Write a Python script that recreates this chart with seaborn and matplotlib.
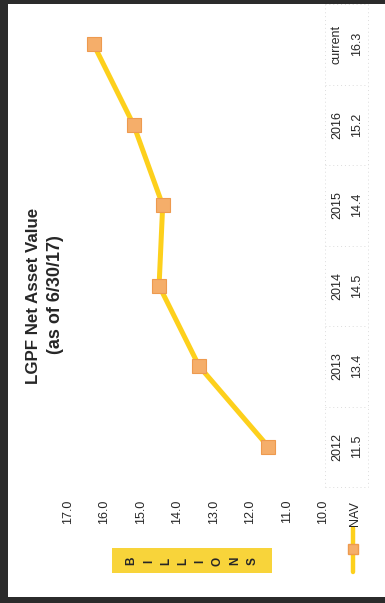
#%%#
### Step 1  ######################################################################
### Libraries and the chart values

import numpy as np
import pandas as pd
import seaborn as sns
import matplotlib.pyplot as plt
from matplotlib.lines import Line2D
from matplotlib.patches import Rectangle
from matplotlib.transforms import blended_transform_factory

# NAV by year (billions)
years = ['2012', '2013', '2014', '2015', '2016', 'current']
nav = [11.5, 13.4, 14.5, 14.4, 15.2, 16.3]
value_ticks = [10.0, 11.0, 12.0, 13.0, 14.0, 15.0, 16.0, 17.0]
title_lines = ['LGPF Net Asset Value', '(as of 6/30/17)']
series_name = 'NAV'
unit_label = 'BILLIONS'

df = pd.DataFrame({'year': years, 'nav': nav})
###-------------------------------------------------------------------------------


#%%#
### Step 2  ######################################################################
### Plot (the page was scanned sideways, so the value axis runs horizontally)

sns.set_theme(style='white')
plt.rcParams['font.family'] = ['Liberation Sans', 'DejaVu Sans']

W, H = 385, 603
fig = plt.figure(figsize=(W / 100, H / 100), dpi=100)
fig.patch.set_facecolor('white')

def fx(px):
    return px / W

def fy(py):
    return 1 - py / H

ax = fig.add_axes([fx(68), fy(487), fx(323) - fx(68), fy(4) - fy(487)])
ax.set_facecolor('none')

line_col = '#FDD01C'
mark_col = '#F5AE6A'
mark_edge = '#EE9A4E'

sns.lineplot(data=df, x='nav', y='year', orient='y', sort=False, ax=ax,
             color=line_col, linewidth=3.6, marker='s', markersize=9.5,
             markerfacecolor=mark_col, markeredgecolor=mark_edge, markeredgewidth=0.8)

ax.set_xlim(17.0, 10.0)
ax.set_ylim(-0.5, len(years) - 0.5)
ax.set_xticks(value_ticks)
ax.set_xticklabels([f'{v:.1f}' for v in value_ticks], rotation=90, fontsize=9)
ax.tick_params(axis='x', length=0, pad=9)
ax.set_yticks([])
ax.set_xlabel('')
ax.set_ylabel('')
for s in ax.spines.values():
    s.set_visible(False)

# data table under the chart (years + values)
tr = blended_transform_factory(fig.transFigure, ax.transData)
for i, (yr, v) in enumerate(zip(years, nav)):
    ax.text(fx(337), i, yr, transform=tr, rotation=90, ha='center', va='center',
            fontsize=9, clip_on=False)
    ax.text(fx(357), i, f'{v:.1f}', transform=tr, rotation=90, ha='center', va='center',
            fontsize=9, clip_on=False)

# faint dotted table grid
grid_kw = dict(color='#dcdcdc', lw=0.7, ls=(0, (1, 3)), transform=fig.transFigure)
for gx in [325, 368]:
    fig.add_artist(Line2D([fx(gx), fx(gx)], [fy(4), fy(487)], **grid_kw))
for i in range(len(years) + 1):
    gy = 487 - i * (483 / len(years))
    fig.add_artist(Line2D([fx(325), fx(368)], [fy(gy), fy(gy)], **grid_kw))

# series name + legend key
fig.text(fx(355), fy(514), series_name, rotation=90, ha='center', va='center', fontsize=9)
fig.add_artist(Line2D([fx(353)] * 3, [fy(528), fy(549), fy(572)], color=line_col, lw=3.2,
                      marker='s', markevery=[1], markersize=7, markerfacecolor=mark_col,
                      markeredgecolor=mark_edge, transform=fig.transFigure))

# BILLIONS box
fig.add_artist(Rectangle((fx(112), fy(573)), fx(272) - fx(112), fy(548) - fy(573),
                         facecolor='#F8D43A', edgecolor='none', transform=fig.transFigure))
fig.text(fx(192), fy(561), '\n'.join(unit_label), rotation=90, ha='center', va='center',
         fontsize=8.5, fontweight='bold', linespacing=1.58)

# title
fig.text(fx(34), fy(296), title_lines[0], rotation=90, ha='center', va='center',
         fontsize=12.2, fontweight='bold')
fig.text(fx(56), fy(295), title_lines[1], rotation=90, ha='center', va='center',
         fontsize=13, fontweight='bold')

# dark scan frame
for x0, y0, x1, y1 in [(0, 0, 8, 603), (0, 0, 385, 4), (0, 597, 385, 603)]:
    fig.add_artist(Rectangle((fx(x0), fy(y1)), fx(x1) - fx(x0), fy(y0) - fy(y1),
                             facecolor='#2b2b2b', edgecolor='none', transform=fig.transFigure))

fig.savefig('out.png', dpi=100)
###-------------------------------------------------------------------------------
